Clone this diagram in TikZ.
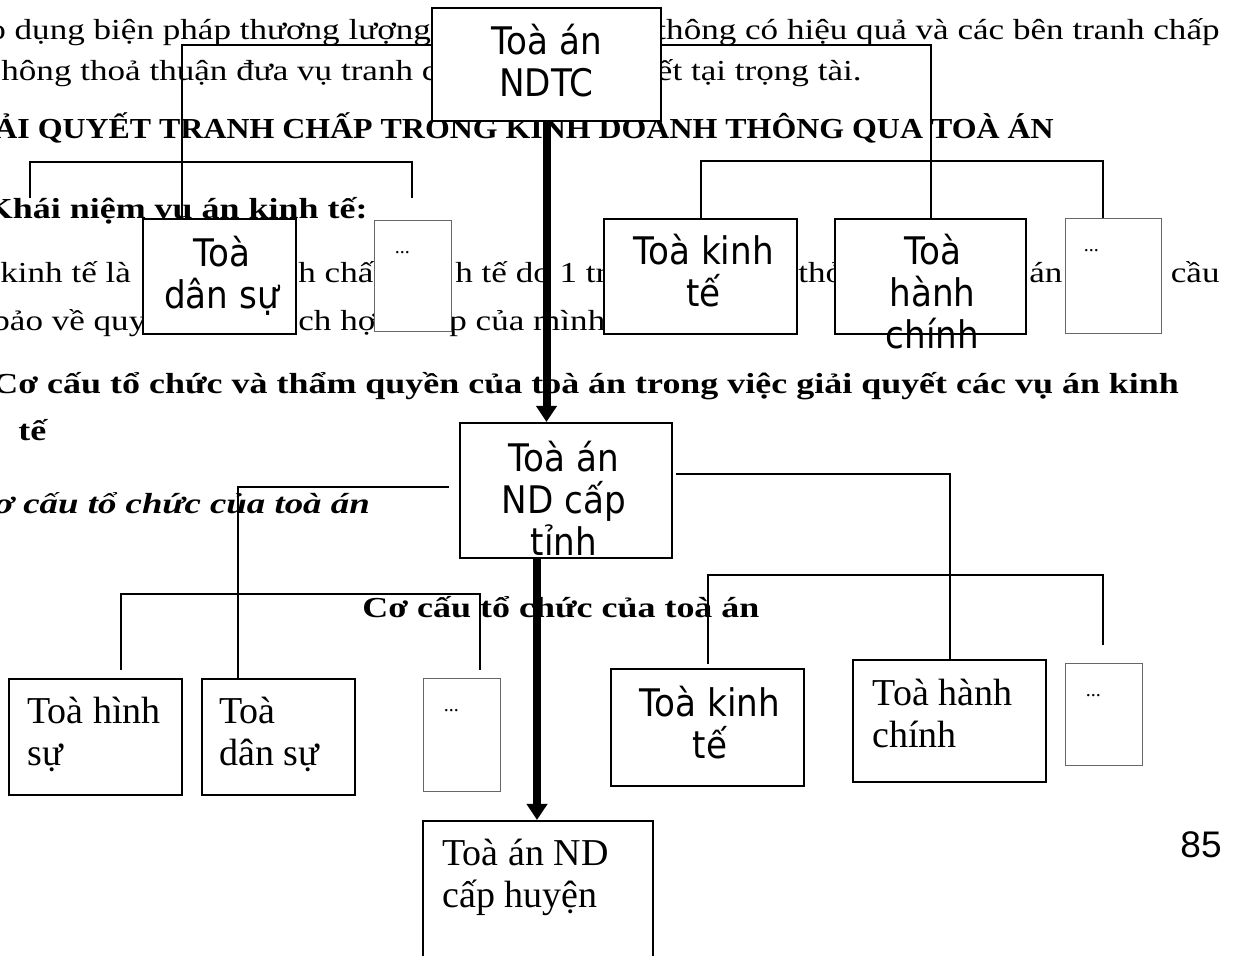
\documentclass[tikz,border=0pt]{standalone}
\usepackage{fontspec}
\setmainfont{Liberation Serif}
\newfontfamily\bodyserif[FakeStretch=1.21]{Liberation Serif}
\newfontfamily\boldserif[FakeStretch=1.24]{Liberation Serif}
\newfontfamily\capserif[FakeStretch=1.1]{Liberation Serif}
\newfontfamily\italserif[FakeStretch=1.27]{Liberation Serif}
\newfontfamily\boxsans[FakeStretch=0.9]{DejaVu Sans}
\newfontfamily\pagesans{Liberation Sans}
\usetikzlibrary{arrows.meta,positioning,calc,backgrounds}

\begin{document}
\begin{tikzpicture}[
  x=0.5pt, y=-0.5pt,
  court/.style={rectangle, draw=black, line width=1pt, fill=white, inner sep=0pt},
  blank/.style={rectangle, draw=black!60, line width=0.5pt, fill=white, inner sep=0pt},
  wh/.style 2 args={minimum width=#1*0.5pt, minimum height=#2*0.5pt},
  sanslbl/.style={font=\boxsans\fontsize{19}{21}\selectfont, align=center, inner sep=0pt},
  seriflbl/.style={font=\fontsize{19}{21}\selectfont, align=left, inner sep=0pt},
  dots/.style={font=\fontsize{10}{12}\selectfont, inner sep=0pt},
  txt/.style={font=\bodyserif\fontsize{14.5}{17}\selectfont, inner sep=0pt},
  head/.style={font=\boldserif\bfseries\fontsize{14.5}{17}\selectfont, inner sep=0pt},
  caps/.style={font=\capserif\bfseries\fontsize{14.5}{17}\selectfont, inner sep=0pt},
  slant/.style={font=\italserif\bfseries\itshape\fontsize{14.5}{17}\selectfont, inner sep=0pt},
  link/.style={line width=1pt, black},
  down/.style={line width=4pt, -{Triangle[length=8pt,width=10pt]}},
]
\useasboundingbox (0,0) rectangle (1238,956);

% ---------- top level
\node[court, wh={229}{113}] (ndtc) at (546.5,64.5) {};
\node[sanslbl, anchor=north] at ($(ndtc.north)+(0,17)$) {Toà án\\NDTC};

% ---------- first row of benches
\node[court, wh={153}{115}] (dansuA) at (219.5,276.5) {};
\node[blank, wh={77}{111}]  (moreA)  at (412.5,276.5) {};
\node[court, wh={193}{115}] (kinhA)  at (700.5,276.5) {};
\node[court, wh={191}{115}] (hanhA)  at (930.5,276.5) {};
\node[blank, wh={96}{115}]  (moreB)  at (1113,276.5) {};
\node[sanslbl, anchor=north] at ($(dansuA.north)+(2,18)$) {Toà\\dân sự};
\node[sanslbl, anchor=north] at ($(kinhA.north)+(3,16)$) {Toà kinh\\tế};
\node[sanslbl, anchor=north] at ($(hanhA.north)+(2,16)$) {Toà\\hành\\chính};
\node[dots, anchor=base west] at ($(moreA.north west)+(21,33)$) {...};
\node[dots, anchor=base west] at ($(moreB.north west)+(19,33)$) {...};

% ---------- province court
\node[court, wh={212}{135}] (tinh) at (566,490.5) {};
\node[sanslbl, anchor=north] at ($(tinh.north)+(-2,19)$) {Toà án\\ND cấp\\tỉnh};

% ---------- second row of benches
\node[court, wh={173}{116}] (hinh)   at (95.5,737) {};
\node[court, wh={153}{116}] (dansuB) at (278.5,737) {};
\node[blank, wh={77}{113}]  (moreC)  at (461.5,735.5) {};
\node[court, wh={193}{117}] (kinhB)  at (707.5,727.5) {};
\node[court, wh={193}{122}] (hanhB)  at (949.5,721) {};
\node[blank, wh={77}{102}]  (moreD)  at (1103.5,715) {};
\node[seriflbl, anchor=north west] at ($(hinh.north west)+(19,19)$) {Toà hình\\sự};
\node[seriflbl, anchor=north west] at ($(dansuB.north west)+(18,19)$) {Toà\\dân sự};
\node[sanslbl, anchor=north] at ($(kinhB.north)+(2.5,18)$) {Toà kinh\\tế};
\node[seriflbl, anchor=north west] at ($(hanhB.north west)+(20,20)$) {Toà hành\\chính};
\node[dots, anchor=base west] at ($(moreC.north west)+(21,33)$) {...};
\node[dots, anchor=base west] at ($(moreD.north west)+(21,33)$) {...};

% ---------- district court
\node[court, wh={230}{141}] (huyen) at (538,891.5) {};
\node[seriflbl, anchor=north west] at ($(huyen.north west)+(20,19)$) {Toà án ND\\cấp huyện};

\begin{scope}[on background layer]
% ---------- page text behind the chart
\node[txt, anchor=base west]  (l1a) at (-12,40)  {o dụng biện pháp thương lượng};
\node[txt, anchor=base east]  (l1b) at (1220,40) {thông có hiệu quả và các bên tranh chấp};
\node[txt, anchor=base west]  (l2a) at (1,81)    {hông thoả thuận đưa vụ tranh c};
\node[txt, anchor=base east]  (l2b) at (862,81)  {ết tại trọng tài.};
\node[caps, anchor=base west] (l3)  at (-6,139)  {ẢI QUYẾT TRANH CHẤP TRONG KINH DOANH THÔNG QUA TOÀ ÁN};
\node[head, anchor=base east] (l4)  at (368,219) {Khái niệm vụ án kinh tế:};
\node[txt, anchor=base west]  (l5a) at (0,283)   {kinh tế là};
\node[txt, anchor=base west]  (l5b) at (298,283) {h chấ};
\node[txt, anchor=base west]  (l5c) at (455,283) {h tế do 1 tr};
\node[txt, anchor=base west]  (l5d) at (798,283) {thỏ};
\node[txt, anchor=base west]  (l5e) at (1029,283) {án (};
\node[txt, anchor=base east]  (l5f) at (1220,283) {cầu};
\node[txt, anchor=base west]  (l6a) at (-8,331)  {bảo về quy};
\node[txt, anchor=base west]  (l6b) at (298,331) {ch hợ};
\node[txt, anchor=base west]  (l6c) at (449,331) {p của mình};
\node[head, anchor=base west] (l7)  at (-8,394)  {Cơ cấu tổ chức và thẩm quyền của toà án trong việc giải quyết các vụ án kinh};
\node[head, anchor=base west] (l8)  at (18,441)  {tế};
\node[slant, anchor=base west] (l9) at (-6,514)  {ơ cấu tổ chức của toà án};
\node[head, anchor=base west] (l10) at (362,618) {Cơ cấu tổ chức của toà án};
\node[anchor=base east, inner sep=0pt, font=\pagesans\fontsize{18.5}{20}\selectfont] (pg) at (1222,858) {85};

% ---------- connectors
\coordinate (capL) at (30,198);
\coordinate (capR) at (412,198);
\coordinate (dropL) at (121,670);
\coordinate (dropR) at (480,670);
\draw[link] ($(dansuA.north west)+(40,0)$) -- ++(0,-173) -| (hanhA.north);
\draw[link] (capL) -- ++(0,-36) -| (capR);
\draw[link] (kinhA.north) -- ++(0,-57) -| ($(moreB.north)+(-10,0)$);
\draw[link] ($(tinh.west)+(-10,-3.5)$) -| ($(dansuB.north west)+(37,0)$);
\draw[link] ($(tinh.east)+(3,-16.5)$) -| (hanhB.north);
\draw[link] (dropL) -- ++(0,-76) -| (dropR);
\draw[link] ($(kinhB.north)+(0,-4)$) -- ++(0,-89) -| ($(moreD.north)+(-0.5,-18)$);
\draw[down] (ndtc.south) -- (ndtc.south |- tinh.north);
\draw[down] ($(tinh.south)+(-29,0)$) -- ($(huyen.north)+(-1,0)$);
\end{scope}
\end{tikzpicture}
\end{document}
